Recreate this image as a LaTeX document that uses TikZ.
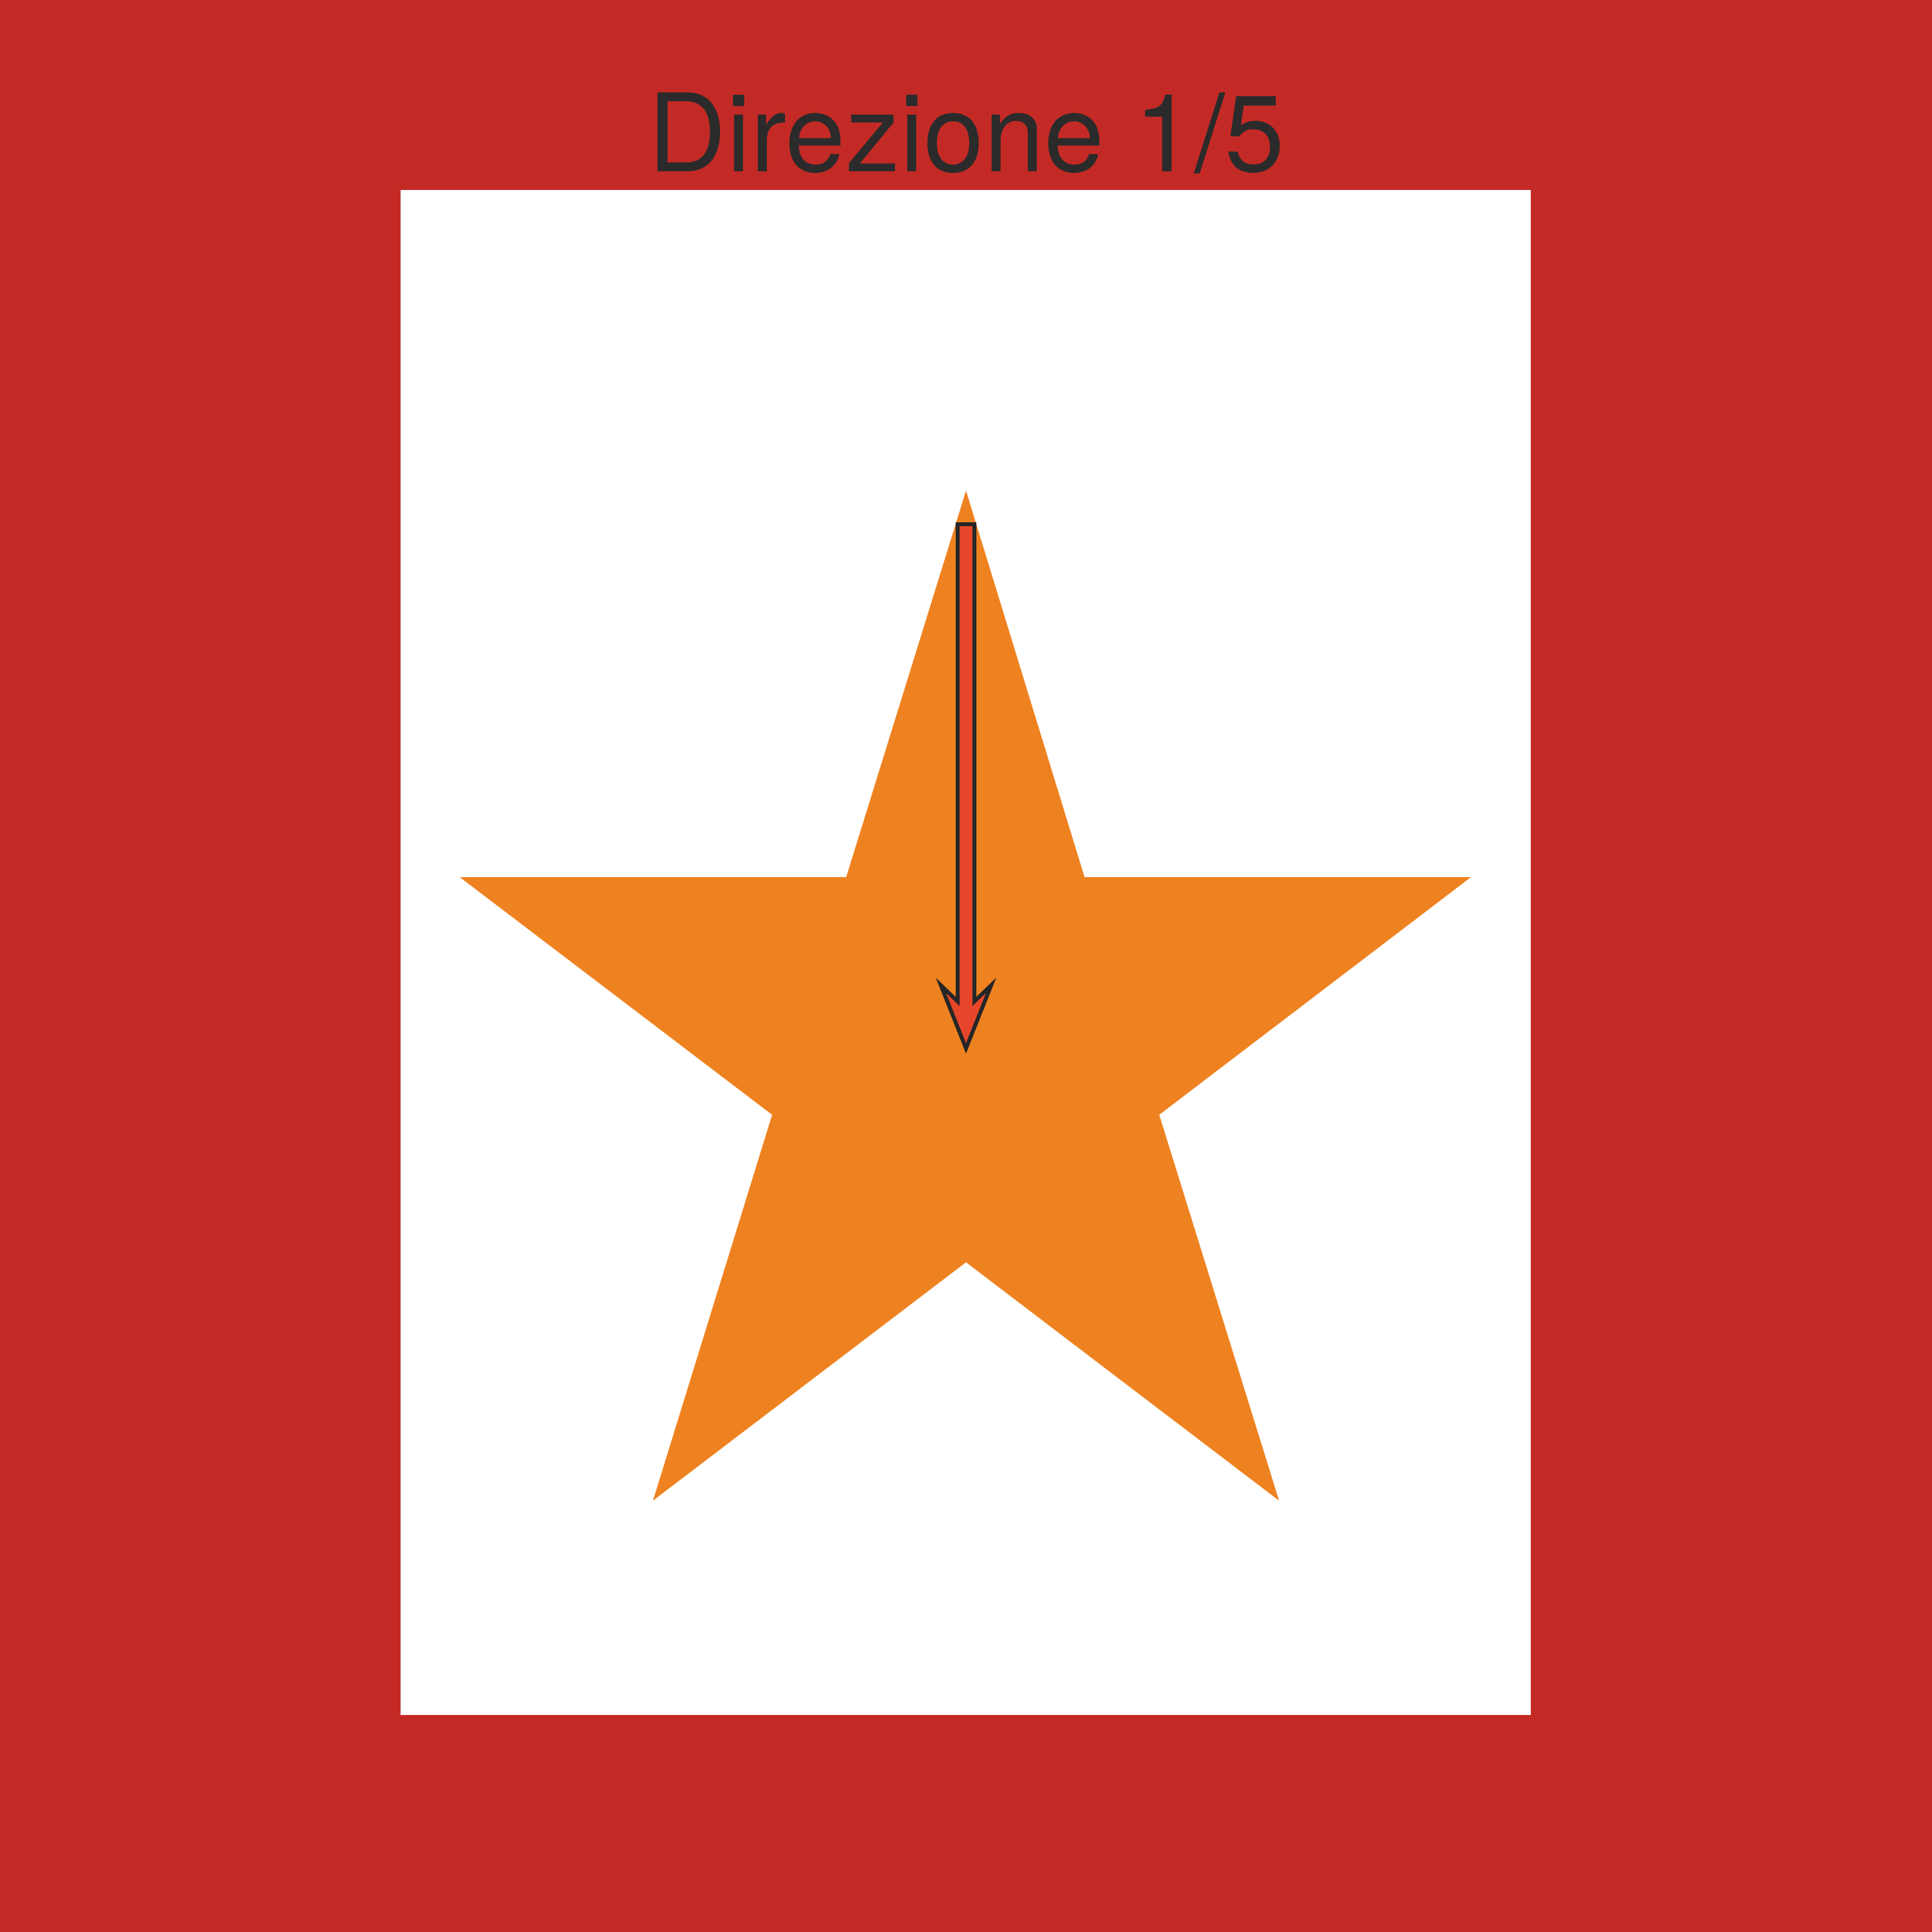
\documentclass[tikz,border=0pt]{standalone}
\usepackage{fontspec}
\setmainfont{TeX Gyre Heros}
\usepackage{tikz}
\usetikzlibrary{calc}

\begin{document}
\begin{tikzpicture}[x=0.01cm,y=-0.01cm]

%Couleurs
\definecolor{colfond}{HTML}{C42A25}
\definecolor{colstella}{HTML}{EF8220}
\definecolor{colfreccia}{HTML}{E8462A}
\definecolor{coltesto}{HTML}{2B2B2B}

%Dimensioni del cartello
\def \lato{3000}
\def \margsx{622}
\def \margdx{2377}
\def \margsu{295}
\def \marggiu{2663}

%Fondo
\fill[colfond] (0,0) rectangle (\lato,\lato);
\useasboundingbox (0,0) rectangle (\lato,\lato);

%Pannello bianco
\fill[white] (\margsx,\margsu) rectangle (\margdx,\marggiu);

%Titolo
\node[anchor=base, inner sep=0pt, text=coltesto, font=\fontsize{47.8}{52}\selectfont] (titolo) at (1501,266) {Direzione 1/5};

%Stella
\fill[colstella] (1500,762) -- (1684,1362) -- (2284,1362) -- (1800,1731) -- (1986,2330)
  -- (1500,1960) -- (1014,2330) -- (1199,1731) -- (714,1362) -- (1314,1362) -- cycle;

%Freccia
\draw[black!85, line width=1.7pt, line join=miter, fill=colfreccia]
  (1487,814) -- ++(26,0) -- (1513,1555) -- (1539,1530) -- (1500,1628)
  -- (1461,1530) -- (1487,1555) -- cycle;

\end{tikzpicture}
\end{document}
